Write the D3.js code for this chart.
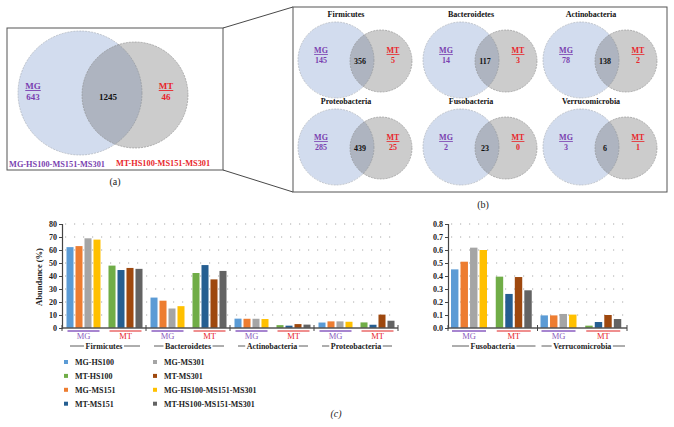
<!DOCTYPE html>
<html><head><meta charset="utf-8">
<script src="https://cdn.jsdelivr.net/npm/d3@7"></script>
<style>
html,body{margin:0;padding:0;background:#fff;}
svg{display:block;font-family:"Liberation Serif","DejaVu Serif",serif;}
</style></head>
<body><svg id="c" width="674" height="427"></svg>
<script>
// ---------- DATA ----------
const vennAll = [643, 1245, 46]; // MG only, shared, MT only
const vennAllLabels = ["MG-HS100-MS151-MS301", "MT-HS100-MS151-MS301"];
const vennPhyla = ["Firmicutes","Bacteroidetes","Actinobacteria","Proteobacteria","Fusobacteria","Verrucomicrobia"];
const vennMG = [145, 14, 78, 285, 2, 3];
const vennShared = [356, 117, 138, 439, 23, 6];
const vennMT = [5, 3, 2, 25, 0, 1];

const phylaLeft = ["Firmicutes","Bacteroidetes","Actinobacteria","Proteobacteria"];
const phylaRight = ["Fusobacteria","Verrucomicrobia"];
const mgSeries = ["MG-HS100","MG-MS151","MG-MS301","MG-HS100-MS151-MS301"];
const mtSeries = ["MT-HS100","MT-MS151","MT-MS301","MT-HS100-MS151-MS301"];
const mgValues = {
  Firmicutes:[62.2,63.0,69.0,68.0],
  Bacteroidetes:[23.4,21.0,15.0,16.8],
  Actinobacteria:[7.2,7.1,7.1,6.9],
  Proteobacteria:[4.2,5.1,5.1,4.8],
  Fusobacteria:[0.451,0.510,0.618,0.600],
  Verrucomicrobia:[0.097,0.097,0.108,0.103]
};
const mtValues = {
  Firmicutes:[48.0,44.6,46.2,45.5],
  Bacteroidetes:[42.3,48.4,37.4,43.9],
  Actinobacteria:[2.2,1.8,3.0,2.6],
  Proteobacteria:[4.3,2.5,10.3,5.6],
  Fusobacteria:[0.395,0.262,0.392,0.290],
  Verrucomicrobia:[0.018,0.046,0.100,0.069]
};
const leftTicks = [0,10,20,30,40,50,60,70,80];
const rightTicks = [0,0.1,0.2,0.3,0.4,0.5,0.6,0.7,0.8];
const legendOrder = ["MG-HS100","MT-HS100","MG-MS151","MT-MS151","MG-MS301","MT-MS301","MG-HS100-MS151-MS301","MT-HS100-MS151-MS301"];
const seriesColors = {
  "MG-HS100":"#5b9bd5","MT-HS100":"#70ad47","MG-MS151":"#ed7d31","MT-MS151":"#255e91",
  "MG-MS301":"#a5a5a5","MT-MS301":"#9e480e","MG-HS100-MS151-MS301":"#ffc000","MT-HS100-MS151-MS301":"#636363"
};

// ---------- STYLE ----------
const PURPLE = "#7a3fb0", RED = "#e8262b";
const svg = d3.select("#c");

// ---------- VENN HELPER ----------
function venn(g, o){
  g.append("circle").attr("cx",o.bx).attr("cy",o.by).attr("r",o.br)
    .attr("fill","#d2dcee").attr("stroke","#a0a6b0").attr("stroke-width",0.6).attr("stroke-dasharray","2,1");
  g.append("circle").attr("cx",o.sx).attr("cy",o.sy).attr("r",o.sr)
    .attr("fill","rgb(100,100,100)").attr("fill-opacity",0.33)
    .attr("stroke","#8a8a8a").attr("stroke-width",0.6).attr("stroke-dasharray","2,1");
  const fs = o.fs;
  g.append("text").attr("x",o.mgx).attr("y",o.ly).attr("text-anchor","middle").attr("fill",PURPLE)
    .attr("font-size",fs).attr("font-weight","bold").attr("text-decoration","underline").text("MG");
  g.append("text").attr("x",o.mgx).attr("y",o.ly+fs+1.5).attr("text-anchor","middle").attr("fill",PURPLE)
    .attr("font-size",fs).attr("font-weight","bold").text(o.mg);
  g.append("text").attr("x",o.mtx).attr("y",o.ly).attr("text-anchor","middle").attr("fill",RED)
    .attr("font-size",fs).attr("font-weight","bold").attr("text-decoration","underline").text("MT");
  g.append("text").attr("x",o.mtx).attr("y",o.ly+fs+1.5).attr("text-anchor","middle").attr("fill",RED)
    .attr("font-size",fs).attr("font-weight","bold").text(o.mt);
  g.append("text").attr("x",o.shx).attr("y",o.shy).attr("text-anchor","middle").attr("fill","#111")
    .attr("font-size",fs).attr("font-weight","bold").text(o.sh);
}

// ---------- PANEL (a) ----------
const pa = svg.append("g");
pa.append("rect").attr("x",7).attr("y",28).attr("width",216).attr("height",142)
  .attr("fill","#fff").attr("stroke","#555").attr("stroke-width",1);
venn(pa,{bx:80,by:93,br:62,sx:135,sy:95,sr:53,mgx:33,mtx:166,ly:89,shx:108,shy:100,
  mg:vennAll[0],sh:vennAll[1],mt:vennAll[2],fs:9});
pa.append("text").attr("x",57).attr("y",167).attr("text-anchor","middle").attr("fill",PURPLE)
  .attr("font-size",8.3).attr("font-weight","bold").text(vennAllLabels[0]);
pa.append("text").attr("x",163).attr("y",166).attr("text-anchor","middle").attr("fill",RED)
  .attr("font-size",8.3).attr("font-weight","bold").text(vennAllLabels[1]);
pa.append("text").attr("x",115).attr("y",185).attr("text-anchor","middle").attr("fill","#222")
  .attr("font-size",10).text("(a)");

// connector lines
svg.append("line").attr("x1",223).attr("y1",28).attr("x2",293).attr("y2",7).attr("stroke","#333").attr("stroke-width",0.9);
svg.append("line").attr("x1",223).attr("y1",170).attr("x2",293).attr("y2",192).attr("stroke","#333").attr("stroke-width",0.9);

// ---------- PANEL (b) ----------
const pb = svg.append("g");
pb.append("rect").attr("x",293).attr("y",7).attr("width",374).attr("height",185)
  .attr("fill","#fff").attr("stroke","#555").attr("stroke-width",1);
const colX = [336, 461, 581], rowY = [60, 147];
vennPhyla.forEach((p,i)=>{
  const cx = colX[i%3], cy = rowY[Math.floor(i/3)];
  const g = pb.append("g");
  venn(g,{bx:cx,by:cy,br:38,sx:cx+45,sy:cy+1,sr:31,mgx:cx-15,mtx:cx+57,ly:cy-7,shx:cx+24,shy:cy+4,
    mg:vennMG[i],sh:vennShared[i],mt:vennMT[i],fs:8});
  g.append("text").attr("x",cx+10).attr("y",cy-43).attr("text-anchor","middle").attr("fill","#111")
    .attr("font-size",8).attr("font-weight","bold").text(p);
});
pb.append("text").attr("x",483).attr("y",208).attr("text-anchor","middle").attr("fill","#222")
  .attr("font-size",10).text("(b)");

// ---------- BAR CHARTS ----------
function barChart(opts){
  const g = svg.append("g");
  const cats = [];
  opts.phyla.forEach(p=>{ cats.push({p, t:"MG"}); cats.push({p, t:"MT"}); });
  const x = d3.scaleBand().domain(cats.map(c=>c.p+"|"+c.t)).range(opts.xr).paddingInner(0).paddingOuter(0);
  const inner = d3.scaleBand().domain([0,1,2,3]).range(opts.inner).paddingInner(0.22);
  const y = d3.scaleLinear().domain([0, opts.max]).range([opts.y0, opts.y1]);

  // grid
  g.append("g").selectAll("line").data(opts.ticks.slice(1)).join("line")
    .attr("x1",opts.xr[0]+3).attr("x2",opts.xr[1]).attr("y1",d=>y(d)).attr("y2",d=>y(d))
    .attr("stroke","#a8a8a8").attr("stroke-width",1).attr("stroke-dasharray","1.2,7.8");

  // bars
  cats.forEach(c=>{
    const vals = (c.t==="MG"?mgValues:mtValues)[c.p];
    const names = c.t==="MG"?mgSeries:mtSeries;
    g.append("g").selectAll("rect").data(vals).join("rect")
      .attr("x",(d,i)=>x(c.p+"|"+c.t)+inner(i))
      .attr("width",inner.bandwidth())
      .attr("y",d=>y(d)).attr("height",d=>y(0)-y(d))
      .attr("fill",(d,i)=>seriesColors[names[i]]);
    // underline and label
    const x0 = x(c.p+"|"+c.t);
    g.append("line").attr("x1",x0+opts.inner[0]+1).attr("x2",x0+opts.inner[1]-1)
      .attr("y1",opts.y0+3).attr("y2",opts.y0+3)
      .attr("stroke",c.t==="MG"?"#8a5cc0":"#ea6a6a").attr("stroke-width",1.6);
    g.append("text").attr("x",x0+(opts.inner[0]+opts.inner[1])/2).attr("y",opts.y0+11)
      .attr("text-anchor","middle").attr("font-size",8.5)
      .attr("fill",c.t==="MG"?"#8a5cc0":RED).text(c.t);
  });

  // y axis
  const ya = d3.axisLeft(y).tickValues(opts.ticks).tickSize(3).tickFormat(opts.fmt);
  const yg = g.append("g").attr("transform",`translate(${opts.xr[0]},0)`).call(ya);
  yg.select(".domain").attr("stroke","#444").attr("stroke-width",1.2);
  yg.selectAll(".tick line").attr("stroke","#444");
  yg.selectAll(".tick text").attr("font-size",8).attr("font-weight","bold").attr("fill","#222")
    .attr("font-family","Liberation Serif, serif").attr("x",-5);

  // x axis line
  g.append("line").attr("x1",opts.xr[0]).attr("x2",opts.xr[1]).attr("y1",opts.y0).attr("y2",opts.y0)
    .attr("stroke","#555").attr("stroke-width",1.5);
  // phylum boundary ticks
  const bounds = opts.phyla.map(p=>x(p+"|MG")).concat([opts.xr[1]]);
  g.append("g").selectAll("line").data(bounds).join("line")
    .attr("x1",d=>d).attr("x2",d=>d).attr("y1",opts.y0-3).attr("y2",opts.y0+3)
    .attr("stroke","#444").attr("stroke-width",1);

  // phylum labels with side lines
  opts.phyla.forEach(p=>{
    const s = x(p+"|MG"), e = x(p+"|MT")+x.bandwidth();
    const cx = (s+e)/2, ly = opts.y0+21;
    const t = g.append("text").attr("x",cx).attr("y",ly).attr("text-anchor","middle")
      .attr("font-size",8).attr("font-weight","bold").attr("fill","#222").text(p);
    const w = t.node().getComputedTextLength();
    g.append("line").attr("x1",s+opts.lp).attr("x2",cx-w/2-1.5).attr("y1",ly-3).attr("y2",ly-3)
      .attr("stroke","#333").attr("stroke-width",0.8);
    g.append("line").attr("x1",cx+w/2+1.5).attr("x2",e-opts.lp+2).attr("y1",ly-3).attr("y2",ly-3)
      .attr("stroke","#333").attr("stroke-width",0.8);
  });
  return g;
}

barChart({phyla:phylaLeft, xr:[62,398], inner:[4.5,38.5], max:80, y0:328, y1:224,
  ticks:leftTicks, fmt:d3.format("d"), lp:8});
barChart({phyla:phylaRight, xr:[448,627], inner:[3,39], max:0.8, y0:328, y1:224,
  ticks:rightTicks, fmt:d3.format(".1f"), lp:4});

// y title
svg.append("text").attr("transform","translate(42,277) rotate(-90)").attr("text-anchor","middle")
  .attr("font-size",8.5).attr("font-weight","bold").attr("fill","#222").text("Abundance (%)");

// ---------- LEGEND ----------
const lg = svg.append("g");
legendOrder.forEach((name,i)=>{
  const col = i<4 ? 0 : 1, row = i%4;
  const lx = col===0 ? 66 : 155, ly = 362 + row*13.9;
  lg.append("rect").attr("x",lx-2).attr("y",ly-2).attr("width",4).attr("height",4)
    .attr("fill",seriesColors[name]);
  lg.append("text").attr("x",lx+9).attr("y",ly+3).attr("font-size",8).attr("font-weight","bold")
    .attr("fill","#222").text(name);
});
svg.append("text").attr("x",336).attr("y",417).attr("text-anchor","middle").attr("fill","#222")
  .attr("font-size",10).attr("font-style","italic").text("(c)");
</script></body></html>
